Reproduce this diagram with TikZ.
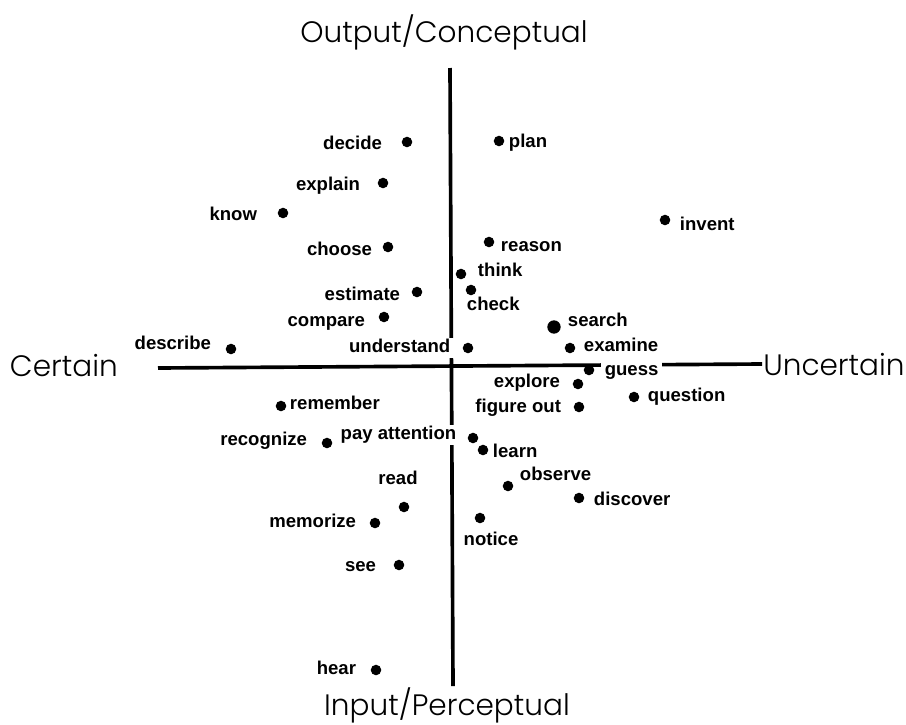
\documentclass[tikz,border=0pt]{standalone}
\usepackage{fontspec}
\setmainfont{Liberation Sans}
\newfontfamily\axisfont{Poppins}[UprightFont=* Light]
\usepackage{tikz}
\usetikzlibrary{positioning}

\begin{document}
\begin{tikzpicture}[x=0.025cm,y=-0.025cm,
	dot/.style={circle,fill=black,inner sep=0pt,minimum size=7.5pt},
	word/.style={inner sep=0.5pt,text height=1.45ex,text depth=0.35ex,font=\bfseries\fontsize{13.2}{16}\selectfont},
	cover/.style={fill=white,inner sep=2.5pt},
	axis title/.style={inner sep=0pt,font=\axisfont\fontsize{21}{24}\selectfont},
	axis line/.style={line width=2.6pt}]
	% Define frame
	\useasboundingbox (0,0) rectangle (906,724);
	
	%axis ends
	\coordinate (axis_top) at (450,68);
	\coordinate (axis_bottom) at (453,686);
	\coordinate (axis_left) at (158,368);
	\coordinate (axis_right) at (762,364);
	
	%axis titles
	\node[axis title,anchor=base] (title_top) at (444,42) {Output/Conceptual};
	\node[axis title,anchor=base] (title_bottom) at (447,715) {Input/Perceptual};
	\node[axis title,anchor=base east] (title_left) at (118,376) {Certain};
	\node[axis title,anchor=base west] (title_right) at (763,375) {Uncertain};
	
	%axes
	\draw[axis line] (axis_top) -- (axis_bottom);
	\draw[axis line] (axis_left) -- (axis_right);
	
	%words
	\foreach \x/\y/\lx/\ly/\anc/\txt [count=\i] in {
		407/142/383/145/east/decide,
		383/183/361/186/east/explain,
		283/213/258/216/east/know,
		388/247/373/251/east/choose,
		417/292/401/296/east/estimate,
		384/317/366/322/east/compare,
		231/349/212/345/east/describe,
		499/141/508/143/west/plan,
		461/274/477/272/west/think,
		489/242/500/247/west/reason,
		471/290/466/306/west/check,
		665/220/679/226/west/invent,
		570/348/583/347/west/examine,
		578/384/561/383/east/explore,
		579/407/562/408/east/figure out,
		634/397/647/397/west/question,
		281/406/289/405/west/remember,
		327/443/308/441/east/recognize,
		483/450/492/453/west/learn,
		508/486/519/476/west/observe,
		579/498/593/501/west/discover,
		404/507/398/480/center/read,
		375/523/357/523/east/memorize,
		480/518/491/541/center/notice,
		399/565/377/567/east/see,
		376/670/357/670/east/hear} {
		\node[dot] (word_dot\i) at (\x,\y) {};
		\node[word,anchor=\anc] (word_label\i) at (\lx,\ly) {\txt};
	}
	
	%words crossing the axes
	\node[word,cover,anchor=east] (label_understand) at (454,348) {understand};
	\node[dot] (dot_understand) at (468,348) {};
	\node[word,cover,anchor=east] (label_attention) at (460,435) {pay attention};
	\node[dot] (dot_attention) at (473,438) {};
	\node[word,cover,anchor=west] (label_guess) at (601,371) {guess};
	\node[dot] (dot_guess) at (589,370) {};
	\node[dot,minimum size=9.5pt] (dot_search) at (554,327) {};
	\node[word,anchor=west] (label_search) at (567,322) {search};

\end{tikzpicture}
\end{document}
